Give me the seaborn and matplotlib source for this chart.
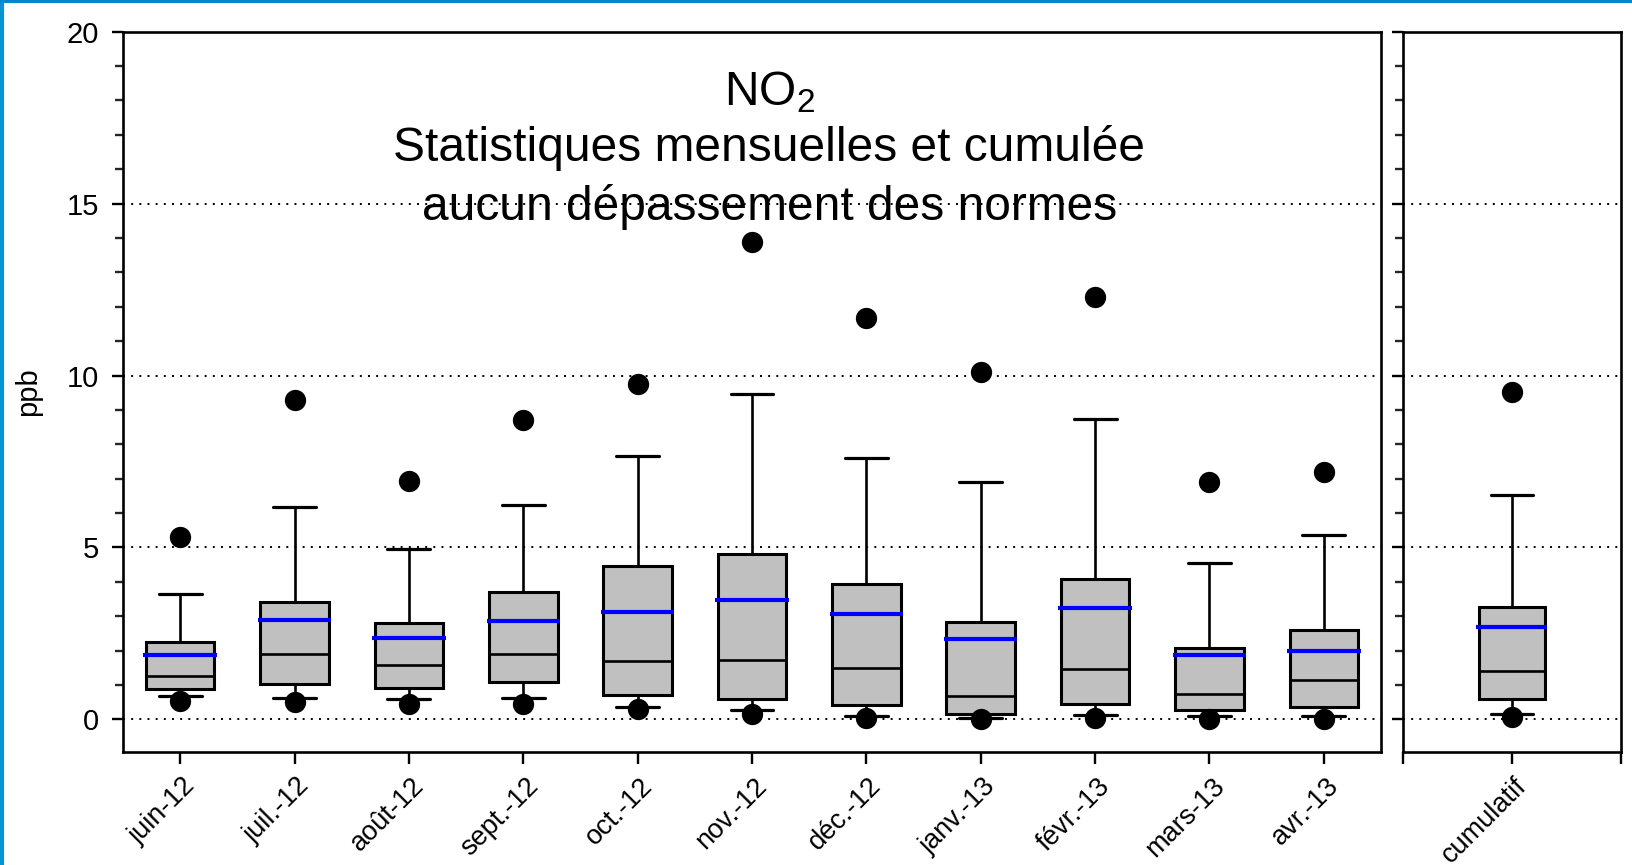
"""
NO2 monthly and cumulative box statistics (ppb), two panels.
"""

import numpy as np
import matplotlib
matplotlib.use("Agg")
import matplotlib.pyplot as plt
from matplotlib.ticker import MultipleLocator
from matplotlib.transforms import ScaledTranslation
import seaborn as sns

# data (ppb)
months = ["juin-12", "juil.-12", "août-12", "sept.-12", "oct.-12", "nov.-12",
          "déc.-12", "janv.-13", "févr.-13", "mars-13", "avr.-13"]
whis_hi = [3.66, 6.17, 4.95, 6.22, 7.67, 9.45, 7.59, 6.89, 8.73, 4.56, 5.35]
q3 = [2.25, 3.42, 2.80, 3.69, 4.45, 4.81, 3.94, 2.83, 4.09, 2.08, 2.59]
means = [1.87, 2.89, 2.38, 2.85, 3.12, 3.48, 3.05, 2.34, 3.24, 1.87, 2.00]
medians = [1.26, 1.89, 1.58, 1.89, 1.69, 1.74, 1.50, 0.68, 1.47, 0.74, 1.14]
q1 = [0.87, 1.02, 0.91, 1.09, 0.70, 0.58, 0.41, 0.16, 0.44, 0.27, 0.36]
whis_lo = [0.68, 0.63, 0.60, 0.63, 0.37, 0.27, 0.10, 0.05, 0.13, 0.10, 0.10]
mins = [0.53, 0.50, 0.46, 0.44, 0.29, 0.17, 0.03, 0.00, 0.05, 0.02, 0.02]
maxs = [5.30, 9.30, 6.92, 8.70, 9.76, 13.88, 11.67, 10.09, 12.27, 6.90, 7.19]

cumul_label = "cumulatif"
cumul_stats = {"whishi": 6.53, "q3": 3.26, "mean": 2.69, "med": 1.42,
               "q1": 0.58, "whislo": 0.16, "min": 0.07, "max": 9.52}

y_ticks = [0, 5, 10, 15, 20]

sns.set_theme(style="ticks")
plt.rcParams["font.family"] = ["Liberation Sans", "DejaVu Sans"]
plt.rcParams["mathtext.default"] = "regular"
plt.rcParams["text.color"] = "black"
plt.rcParams["axes.labelcolor"] = "black"

BOX_GREY = "#c0c0c0"
MEAN_BLUE = "#0000ff"


def box_dicts(hi, up, med, mn, lo, wlo):
    return [{"whishi": a, "q3": b, "med": c, "mean": d, "q1": e,
             "whislo": f, "fliers": []}
            for a, b, c, d, e, f in zip(hi, up, med, mn, lo, wlo)]


def draw_boxes(ax, stats, positions, width, cap_width):
    ax.bxp(stats, positions=positions, widths=width, patch_artist=True,
           showmeans=False, showfliers=False, capwidths=cap_width,
           boxprops=dict(facecolor=BOX_GREY, edgecolor="black", linewidth=2.2),
           medianprops=dict(color="black", linewidth=1.9),
           whiskerprops=dict(color="black", linewidth=1.9),
           capprops=dict(color="black", linewidth=2.3),
           manage_ticks=False, zorder=3)
    # mean as a blue line a little wider than the box
    mean_vals = [s["mean"] for s in stats]
    half = width * 0.535
    ax.hlines(mean_vals, np.asarray(positions) - half, np.asarray(positions) + half,
              colors=MEAN_BLUE, linewidth=3.0, zorder=4)


def style_axis(ax):
    ax.set_ylim(-0.95, 20)
    ax.set_yticks(y_ticks)
    ax.yaxis.set_minor_locator(MultipleLocator(1))
    for yv in y_ticks[:-1]:
        ax.axhline(yv, color="black", linewidth=1.4, linestyle=(0, (1, 3.2)), zorder=1)
    for sp in ax.spines.values():
        sp.set_linewidth(1.9)
        sp.set_color("black")
    ax.tick_params(axis="y", which="major", direction="out", length=8, width=1.7,
                   labelsize=21, pad=9, colors="black")
    ax.tick_params(axis="y", which="minor", direction="out", length=5.5, width=1.7,
                   left=True)
    ax.tick_params(axis="x", which="major", direction="out", length=8.5, width=1.7,
                   labelsize=19.5, pad=6.5, colors="black")
    ax.set_facecolor("white")


def slant_labels(ax, labels):
    ax.set_xticklabels(labels, rotation=45, ha="right", va="top",
                       rotation_mode="anchor")
    shift = ScaledTranslation(1.5 / 72, 0, ax.figure.dpi_scale_trans)
    for lab in ax.get_xticklabels():
        lab.set_transform(lab.get_transform() + shift)


fig = plt.figure(figsize=(16.33, 8.65), dpi=100)
ax = fig.add_axes([0.0753, 0.1306, 0.7704, 0.8328])
ax2 = fig.add_axes([0.8591, 0.1306, 0.1335, 0.8328])

# main panel
pos = np.arange(len(months))
draw_boxes(ax, box_dicts(whis_hi, q3, medians, means, q1, whis_lo), pos, 0.6, 0.375)
sns.scatterplot(x=np.concatenate([pos, pos]), y=np.concatenate([mins, maxs]),
                ax=ax, color="black", s=235, linewidth=0, zorder=5, legend=False)
ax.set_xlim(-0.5, len(months) - 0.5)
style_axis(ax)
ax.set_xticks(pos)
slant_labels(ax, months)
ax.set_xlabel("")
ax.set_ylabel("ppb", fontsize=21)
ax.yaxis.set_label_coords(-0.064, 0.5)

# cumulative panel
cs = cumul_stats
draw_boxes(ax2, box_dicts([cs["whishi"]], [cs["q3"]], [cs["med"]], [cs["mean"]],
                          [cs["q1"]], [cs["whislo"]]), [0.0], 0.305, 0.19)
sns.scatterplot(x=[0.0, 0.0], y=[cs["min"], cs["max"]], ax=ax2, color="black",
                s=235, linewidth=0, zorder=5, legend=False)
ax2.set_xlim(-0.5, 0.5)
style_axis(ax2)
ax2.set_xticks([-0.5, 0.0, 0.5])
slant_labels(ax2, ["", cumul_label, ""])
ax2.set_xlabel("")
ax2.set_ylabel("")
ax2.tick_params(axis="y", labelleft=False)

# title block inside the main panel
title_size = 34.5
fig.text(0.471, 0.893, "NO$_2$", ha="center", va="center", fontsize=title_size)
fig.text(0.471, 0.829, "Statistiques mensuelles et cumulée", ha="center",
         va="center", fontsize=title_size)
fig.text(0.471, 0.761, "aucun dépassement des normes", ha="center",
         va="center", fontsize=title_size)

# blue frame on the left and top edges
fig.add_artist(plt.Line2D([0.0012, 0.0012], [0, 1], transform=fig.transFigure,
                          color="#0094d4", linewidth=3.0))
fig.add_artist(plt.Line2D([0, 1], [0.9983, 0.9983], transform=fig.transFigure,
                          color="#0088c8", linewidth=2.2))

fig.savefig("out.png", dpi=100, facecolor="white")
plt.close(fig)
